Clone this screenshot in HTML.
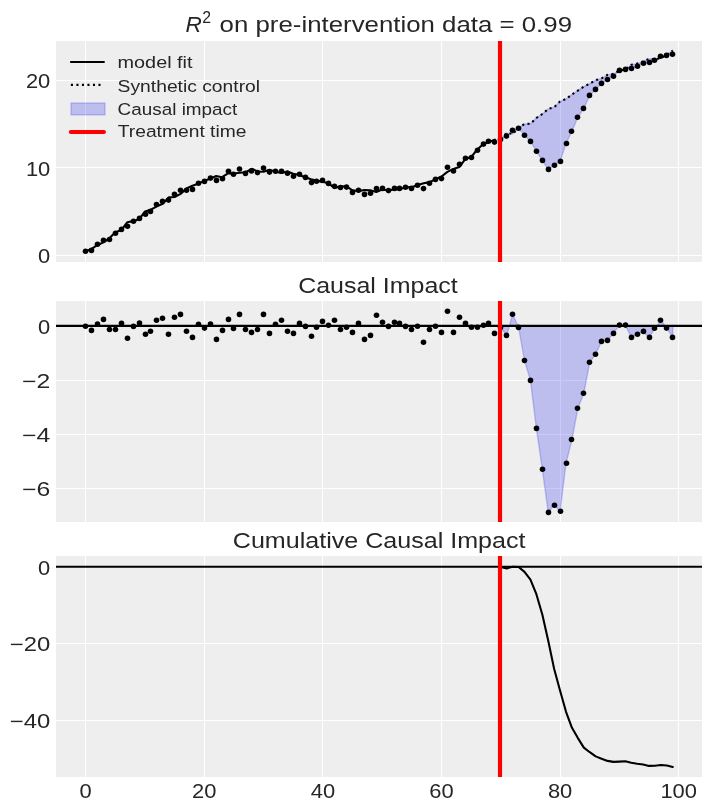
<!DOCTYPE html>
<html><head><meta charset="utf-8"><style>
html,body{margin:0;padding:0;background:#fff;}
svg{display:block;will-change:transform;}
text{font-family:"Liberation Sans",sans-serif;}
</style></head><body>
<svg width="711" height="811" viewBox="0 0 711 811">
<rect width="711" height="811" fill="#ffffff"/>
<defs><clipPath id="c0"><rect x="56" y="41" width="646" height="221"/></clipPath></defs>
<rect x="56" y="41" width="646" height="221" fill="#eeeeee"/>
<path d="M85.5 41V262M204.5 41V262M322.5 41V262M441.5 41V262M560.5 41V262M678.5 41V262M56 255.5H702M56 167.5H702M56 80.5H702" stroke="#ffffff" stroke-width="1.1" fill="none"/>
<defs><clipPath id="c1"><rect x="56" y="301" width="646" height="221"/></clipPath></defs>
<rect x="56" y="301" width="646" height="221" fill="#eeeeee"/>
<path d="M85.5 301V522M204.5 301V522M322.5 301V522M441.5 301V522M560.5 301V522M678.5 301V522M56 325.5H702M56 380.5H702M56 434.5H702M56 488.5H702" stroke="#ffffff" stroke-width="1.1" fill="none"/>
<defs><clipPath id="c2"><rect x="56" y="556" width="646" height="221"/></clipPath></defs>
<rect x="56" y="556" width="646" height="221" fill="#eeeeee"/>
<path d="M85.5 556V777M204.5 556V777M322.5 556V777M441.5 556V777M560.5 556V777M678.5 556V777M56 566.5H702M56 643.5H702M56 720.5H702" stroke="#ffffff" stroke-width="1.1" fill="none"/>
<g clip-path="url(#c0)">
<polygon points="500.8,138.95 506.73,133.02 512.66,134.06 518.59,127.71 524.52,124 530.45,123.75 536.38,118.01 542.31,114 548.24,109.01 554.17,107.21 560.1,101.4 566.03,99.01 571.96,94.52 577.89,90.55 583.82,86.61 589.75,83.61 595.68,80.24 601.61,78.38 607.54,74.81 613.47,73.87 619.4,70.66 625.33,69.66 631.26,64.78 637.19,63.58 643.12,61.42 649.05,58.78 654.98,59.52 660.91,58.01 666.84,54.69 672.77,50.58 672.77,54.3 666.84,55.4 660.91,56.2 654.98,60.3 649.05,62.5 643.12,63.2 637.19,66.3 631.26,68.5 625.33,69.4 619.4,70.4 613.47,76.3 607.54,79.5 601.61,83.4 595.68,89.4 589.75,95.4 583.82,108.4 577.89,117.2 571.96,131.3 566.03,143.5 560.1,161.4 554.17,165.3 548.24,169.4 542.31,160.4 536.38,151.2 530.45,141.4 524.52,135.2 518.59,128.2 512.66,130.3 506.73,136.1 500.8,139.5" fill="#2a2eec" fill-opacity="0.25" stroke="#2a2eec" stroke-opacity="0.25" stroke-width="1.39"/>
<polyline points="85.7,251.2 91.63,248.94 97.56,244.92 103.49,242.4 109.42,238.33 115.35,232.13 121.28,230.24 127.21,222.29 133.14,221.14 139.07,219.31 145,211.48 150.93,209.65 156.86,206.31 162.79,203.86 168.72,197.38 174.65,197.02 180.58,193.92 186.51,188.55 192.44,185.68 198.37,183.85 204.3,180.69 210.23,178.72 216.16,176.03 222.09,177.24 228.02,173.4 233.95,173.46 239.88,172.72 245.81,172.23 251.74,168.8 257.67,171.43 263.6,171.82 269.53,169.67 275.46,171.75 281.39,173.11 287.32,171.45 293.25,173.77 299.18,175.01 305.11,177.24 311.04,179.23 316.97,180.85 322.9,181.86 328.83,183.59 334.76,188.11 340.69,186.33 346.62,186.65 352.55,190.3 358.48,191.11 364.41,190.03 370.34,190.22 376.27,191.96 382.2,189.57 388.13,190.44 394.06,189.57 399.99,189.21 405.92,187.14 411.85,187.23 417.78,185.1 423.71,183.32 429.64,182.13 435.57,179.3 441.5,176.5 447.43,171.93 453.36,168.9 459.29,167.02 465.22,159.01 471.15,157.05 477.08,149.75 483.01,144.29 488.94,142.01 494.87,139.67" fill="none" stroke="#000" stroke-width="2.08" stroke-linejoin="round" stroke-linecap="round"/>
<polyline points="500.8,138.95 506.73,133.02 512.66,134.06 518.59,127.71 524.52,124 530.45,123.75 536.38,118.01 542.31,114 548.24,109.01 554.17,107.21 560.1,101.4 566.03,99.01 571.96,94.52 577.89,90.55 583.82,86.61 589.75,83.61 595.68,80.24 601.61,78.38 607.54,74.81 613.47,73.87 619.4,70.66 625.33,69.66 631.26,64.78 637.19,63.58 643.12,61.42 649.05,58.78 654.98,59.52 660.91,58.01 666.84,54.69 672.77,50.58" fill="none" stroke="#000" stroke-width="2.08" stroke-dasharray="2.08 3.43" stroke-linejoin="round"/>
<circle cx="85.5" cy="251.3" r="2.78"/>
<circle cx="91.5" cy="250.4" r="2.78"/>
<circle cx="97.5" cy="244.3" r="2.78"/>
<circle cx="103.5" cy="240.3" r="2.78"/>
<circle cx="109.5" cy="239.5" r="2.78"/>
<circle cx="115.5" cy="233.3" r="2.78"/>
<circle cx="121.5" cy="229.4" r="2.78"/>
<circle cx="127.5" cy="226.3" r="2.78"/>
<circle cx="133.5" cy="221.3" r="2.78"/>
<circle cx="139.5" cy="218.4" r="2.78"/>
<circle cx="145.5" cy="214.2" r="2.78"/>
<circle cx="150.5" cy="211.4" r="2.78"/>
<circle cx="156.5" cy="204.5" r="2.78"/>
<circle cx="162.5" cy="201.4" r="2.78"/>
<circle cx="168.5" cy="200.1" r="2.78"/>
<circle cx="174.5" cy="194.2" r="2.78"/>
<circle cx="180.5" cy="190.2" r="2.78"/>
<circle cx="186.5" cy="190.3" r="2.78"/>
<circle cx="192.5" cy="189.4" r="2.78"/>
<circle cx="198.5" cy="183.3" r="2.78"/>
<circle cx="204.5" cy="181.4" r="2.78"/>
<circle cx="210.5" cy="178.1" r="2.78"/>
<circle cx="216.5" cy="180.4" r="2.78"/>
<circle cx="222.5" cy="178.7" r="2.78"/>
<circle cx="228.5" cy="171.3" r="2.78"/>
<circle cx="233.5" cy="174.3" r="2.78"/>
<circle cx="239.5" cy="169" r="2.78"/>
<circle cx="245.5" cy="173.4" r="2.78"/>
<circle cx="251.5" cy="170.9" r="2.78"/>
<circle cx="257.5" cy="172.6" r="2.78"/>
<circle cx="263.5" cy="168.1" r="2.78"/>
<circle cx="269.5" cy="172.1" r="2.78"/>
<circle cx="275.5" cy="171.2" r="2.78"/>
<circle cx="281.5" cy="171.3" r="2.78"/>
<circle cx="287.5" cy="173.2" r="2.78"/>
<circle cx="293.5" cy="176.2" r="2.78"/>
<circle cx="299.5" cy="174.2" r="2.78"/>
<circle cx="305.5" cy="177.4" r="2.78"/>
<circle cx="311.5" cy="182.6" r="2.78"/>
<circle cx="316.5" cy="181.3" r="2.78"/>
<circle cx="322.5" cy="180.4" r="2.78"/>
<circle cx="328.5" cy="183.4" r="2.78"/>
<circle cx="334.5" cy="186.3" r="2.78"/>
<circle cx="340.5" cy="187.5" r="2.78"/>
<circle cx="346.5" cy="187.1" r="2.78"/>
<circle cx="352.5" cy="192.4" r="2.78"/>
<circle cx="358.5" cy="190.3" r="2.78"/>
<circle cx="364.5" cy="194.4" r="2.78"/>
<circle cx="370.5" cy="193.3" r="2.78"/>
<circle cx="376.5" cy="188.5" r="2.78"/>
<circle cx="382.5" cy="188.4" r="2.78"/>
<circle cx="388.5" cy="190.6" r="2.78"/>
<circle cx="394.5" cy="188.4" r="2.78"/>
<circle cx="399.5" cy="188.4" r="2.78"/>
<circle cx="405.5" cy="187.3" r="2.78"/>
<circle cx="411.5" cy="188.4" r="2.78"/>
<circle cx="417.5" cy="185.2" r="2.78"/>
<circle cx="423.5" cy="188.6" r="2.78"/>
<circle cx="429.5" cy="183.3" r="2.78"/>
<circle cx="435.5" cy="179.4" r="2.78"/>
<circle cx="441.5" cy="178.6" r="2.78"/>
<circle cx="447.5" cy="167.2" r="2.78"/>
<circle cx="453.5" cy="171" r="2.78"/>
<circle cx="459.5" cy="164.2" r="2.78"/>
<circle cx="465.5" cy="158.2" r="2.78"/>
<circle cx="471.5" cy="157.5" r="2.78"/>
<circle cx="477.5" cy="150.2" r="2.78"/>
<circle cx="483.5" cy="144.1" r="2.78"/>
<circle cx="488.5" cy="141.2" r="2.78"/>
<circle cx="494.5" cy="142.1" r="2.78"/>
<circle cx="500.5" cy="139.5" r="2.78"/>
<circle cx="506.5" cy="136.1" r="2.78"/>
<circle cx="512.5" cy="130.3" r="2.78"/>
<circle cx="518.5" cy="128.2" r="2.78"/>
<circle cx="524.5" cy="135.2" r="2.78"/>
<circle cx="530.5" cy="141.4" r="2.78"/>
<circle cx="536.5" cy="151.2" r="2.78"/>
<circle cx="542.5" cy="160.4" r="2.78"/>
<circle cx="548.5" cy="169.4" r="2.78"/>
<circle cx="554.5" cy="165.3" r="2.78"/>
<circle cx="560.5" cy="161.4" r="2.78"/>
<circle cx="566.5" cy="143.5" r="2.78"/>
<circle cx="571.5" cy="131.3" r="2.78"/>
<circle cx="577.5" cy="117.2" r="2.78"/>
<circle cx="583.5" cy="108.4" r="2.78"/>
<circle cx="589.5" cy="95.4" r="2.78"/>
<circle cx="595.5" cy="89.4" r="2.78"/>
<circle cx="601.5" cy="83.4" r="2.78"/>
<circle cx="607.5" cy="79.5" r="2.78"/>
<circle cx="613.5" cy="76.3" r="2.78"/>
<circle cx="619.5" cy="70.4" r="2.78"/>
<circle cx="625.5" cy="69.4" r="2.78"/>
<circle cx="631.5" cy="68.5" r="2.78"/>
<circle cx="637.5" cy="66.3" r="2.78"/>
<circle cx="643.5" cy="63.2" r="2.78"/>
<circle cx="649.5" cy="62.5" r="2.78"/>
<circle cx="654.5" cy="60.3" r="2.78"/>
<circle cx="660.5" cy="56.2" r="2.78"/>
<circle cx="666.5" cy="55.4" r="2.78"/>
<circle cx="672.5" cy="54.3" r="2.78"/>
</g>
<g clip-path="url(#c1)">
<polygon points="500.8,327.6 506.73,335.4 512.66,314.3 518.59,327.4 524.52,360.5 530.45,380.4 536.38,428.4 542.31,469.2 548.24,512.4 554.17,505.3 560.1,511.2 566.03,463.3 571.96,439.5 577.89,408.2 583.82,393.2 589.75,362.3 595.68,354.2 601.61,341.4 607.54,340.4 613.47,333.4 619.4,325.1 625.33,325.1 631.26,337.4 637.19,334.3 643.12,331.4 649.05,337.4 654.98,328.3 660.91,320.3 666.84,328.1 672.77,337.4 672.77,325.9 500.8,325.9" fill="#2a2eec" fill-opacity="0.25" stroke="#2a2eec" stroke-opacity="0.25" stroke-width="1.39"/>
<circle cx="85.5" cy="326.2" r="2.78"/>
<circle cx="91.5" cy="330.4" r="2.78"/>
<circle cx="97.5" cy="324" r="2.78"/>
<circle cx="103.5" cy="319.4" r="2.78"/>
<circle cx="109.5" cy="329.5" r="2.78"/>
<circle cx="115.5" cy="329.5" r="2.78"/>
<circle cx="121.5" cy="323.3" r="2.78"/>
<circle cx="127.5" cy="338.3" r="2.78"/>
<circle cx="133.5" cy="326.4" r="2.78"/>
<circle cx="139.5" cy="323.1" r="2.78"/>
<circle cx="145.5" cy="334.3" r="2.78"/>
<circle cx="150.5" cy="331.3" r="2.78"/>
<circle cx="156.5" cy="320.3" r="2.78"/>
<circle cx="162.5" cy="318.3" r="2.78"/>
<circle cx="168.5" cy="334.3" r="2.78"/>
<circle cx="174.5" cy="317.2" r="2.78"/>
<circle cx="180.5" cy="314.4" r="2.78"/>
<circle cx="186.5" cy="331.3" r="2.78"/>
<circle cx="192.5" cy="337.4" r="2.78"/>
<circle cx="198.5" cy="324.2" r="2.78"/>
<circle cx="204.5" cy="328.1" r="2.78"/>
<circle cx="210.5" cy="324" r="2.78"/>
<circle cx="216.5" cy="339.4" r="2.78"/>
<circle cx="222.5" cy="330.4" r="2.78"/>
<circle cx="228.5" cy="319.4" r="2.78"/>
<circle cx="233.5" cy="328.5" r="2.78"/>
<circle cx="239.5" cy="314.4" r="2.78"/>
<circle cx="245.5" cy="329.5" r="2.78"/>
<circle cx="251.5" cy="332.4" r="2.78"/>
<circle cx="257.5" cy="329.5" r="2.78"/>
<circle cx="263.5" cy="314.4" r="2.78"/>
<circle cx="269.5" cy="333.4" r="2.78"/>
<circle cx="275.5" cy="324.2" r="2.78"/>
<circle cx="281.5" cy="320.3" r="2.78"/>
<circle cx="287.5" cy="331.3" r="2.78"/>
<circle cx="293.5" cy="333.4" r="2.78"/>
<circle cx="299.5" cy="323.4" r="2.78"/>
<circle cx="305.5" cy="326.4" r="2.78"/>
<circle cx="311.5" cy="336.3" r="2.78"/>
<circle cx="316.5" cy="327.3" r="2.78"/>
<circle cx="322.5" cy="321.4" r="2.78"/>
<circle cx="328.5" cy="325.3" r="2.78"/>
<circle cx="334.5" cy="320.3" r="2.78"/>
<circle cx="340.5" cy="329.5" r="2.78"/>
<circle cx="346.5" cy="327.3" r="2.78"/>
<circle cx="352.5" cy="332.4" r="2.78"/>
<circle cx="358.5" cy="323.4" r="2.78"/>
<circle cx="364.5" cy="339.4" r="2.78"/>
<circle cx="370.5" cy="335.4" r="2.78"/>
<circle cx="376.5" cy="315.2" r="2.78"/>
<circle cx="382.5" cy="322.3" r="2.78"/>
<circle cx="388.5" cy="326.4" r="2.78"/>
<circle cx="394.5" cy="322.3" r="2.78"/>
<circle cx="399.5" cy="323.4" r="2.78"/>
<circle cx="405.5" cy="326.4" r="2.78"/>
<circle cx="411.5" cy="329.5" r="2.78"/>
<circle cx="417.5" cy="326.2" r="2.78"/>
<circle cx="423.5" cy="342.2" r="2.78"/>
<circle cx="429.5" cy="329.5" r="2.78"/>
<circle cx="435.5" cy="326.2" r="2.78"/>
<circle cx="441.5" cy="332.4" r="2.78"/>
<circle cx="447.5" cy="311.3" r="2.78"/>
<circle cx="453.5" cy="332.4" r="2.78"/>
<circle cx="459.5" cy="317.2" r="2.78"/>
<circle cx="465.5" cy="323.4" r="2.78"/>
<circle cx="471.5" cy="327.3" r="2.78"/>
<circle cx="477.5" cy="327.3" r="2.78"/>
<circle cx="483.5" cy="325.3" r="2.78"/>
<circle cx="488.5" cy="323.4" r="2.78"/>
<circle cx="494.5" cy="333.4" r="2.78"/>
<circle cx="500.5" cy="327.6" r="2.78"/>
<circle cx="506.5" cy="335.4" r="2.78"/>
<circle cx="512.5" cy="314.3" r="2.78"/>
<circle cx="518.5" cy="327.4" r="2.78"/>
<circle cx="524.5" cy="360.5" r="2.78"/>
<circle cx="530.5" cy="380.4" r="2.78"/>
<circle cx="536.5" cy="428.4" r="2.78"/>
<circle cx="542.5" cy="469.2" r="2.78"/>
<circle cx="548.5" cy="512.4" r="2.78"/>
<circle cx="554.5" cy="505.3" r="2.78"/>
<circle cx="560.5" cy="511.2" r="2.78"/>
<circle cx="566.5" cy="463.3" r="2.78"/>
<circle cx="571.5" cy="439.5" r="2.78"/>
<circle cx="577.5" cy="408.2" r="2.78"/>
<circle cx="583.5" cy="393.2" r="2.78"/>
<circle cx="589.5" cy="362.3" r="2.78"/>
<circle cx="595.5" cy="354.2" r="2.78"/>
<circle cx="601.5" cy="341.4" r="2.78"/>
<circle cx="607.5" cy="340.4" r="2.78"/>
<circle cx="613.5" cy="333.4" r="2.78"/>
<circle cx="619.5" cy="325.1" r="2.78"/>
<circle cx="625.5" cy="325.1" r="2.78"/>
<circle cx="631.5" cy="337.4" r="2.78"/>
<circle cx="637.5" cy="334.3" r="2.78"/>
<circle cx="643.5" cy="331.4" r="2.78"/>
<circle cx="649.5" cy="337.4" r="2.78"/>
<circle cx="654.5" cy="328.3" r="2.78"/>
<circle cx="660.5" cy="320.3" r="2.78"/>
<circle cx="666.5" cy="328.1" r="2.78"/>
<circle cx="672.5" cy="337.4" r="2.78"/>
<path d="M56 325.9H702" stroke="#000" stroke-width="2.08"/>
</g>
<g clip-path="url(#c2)">
<polyline points="500.8,567.04 506.73,568.39 512.66,566.74 518.59,566.96 524.52,571.87 530.45,579.61 536.38,594.17 542.31,614.53 548.24,640.7 554.17,669 560.1,690.8 566.03,711.8 571.96,727.8 577.89,738.1 583.82,747.6 589.75,752.2 595.68,756.4 601.61,758.8 607.54,760.9 613.47,761.9 619.4,761.6 625.33,761.2 631.26,762.8 637.19,763.8 643.12,764.5 649.05,765.9 654.98,765.7 660.91,765 666.84,765.5 672.77,767" fill="none" stroke="#000" stroke-width="2.08" stroke-linejoin="round" stroke-linecap="round"/>
<path d="M56 566.8H702" stroke="#000" stroke-width="2.08"/>
</g>
<path d="M500 41V262" stroke="#ff0000" stroke-width="4.17"/>
<path d="M500 301V522" stroke="#ff0000" stroke-width="4.17"/>
<path d="M500 556V777" stroke="#ff0000" stroke-width="4.17"/>
<path d="M70.9 62H103.9" stroke="#000" stroke-width="2.08" stroke-linecap="round"/>
<path d="M70.9 84.9H103.5" stroke="#000" stroke-width="2.08" stroke-dasharray="2.08 3.43"/>
<rect x="71.0" y="103.0" width="34.0" height="11.9" fill="#2a2eec" fill-opacity="0.25" stroke="#2a2eec" stroke-opacity="0.25" stroke-width="1.39"/>
<path d="M70.9 132H103.9" stroke="#ff0000" stroke-width="4.17" stroke-linecap="round"/>
<text x="117.6" y="68.3" font-family="Liberation Sans, sans-serif" font-size="17.2" fill="#262626" text-anchor="start" textLength="74.9" lengthAdjust="spacingAndGlyphs">model fit</text>
<text x="117.6" y="91.5" font-family="Liberation Sans, sans-serif" font-size="17.2" fill="#262626" text-anchor="start" textLength="142.5" lengthAdjust="spacingAndGlyphs">Synthetic control</text>
<text x="117.6" y="114.6" font-family="Liberation Sans, sans-serif" font-size="17.2" fill="#262626" text-anchor="start" textLength="119.7" lengthAdjust="spacingAndGlyphs">Causal impact</text>
<text x="117.8" y="137.3" font-family="Liberation Sans, sans-serif" font-size="17.2" fill="#262626" text-anchor="start" textLength="128.6" lengthAdjust="spacingAndGlyphs">Treatment time</text>
<text x="185.4" y="32" font-family="Liberation Sans, sans-serif" font-size="22.6" fill="#262626" font-style="italic">R</text>
<text x="202.3" y="22.8" font-family="Liberation Sans, sans-serif" font-size="15.8" fill="#262626">2</text>
<text x="219.6" y="32" font-family="Liberation Sans, sans-serif" font-size="22.6" fill="#262626" text-anchor="start" textLength="352.4" lengthAdjust="spacingAndGlyphs">on pre-intervention data = 0.99</text>
<text x="298.2" y="292.6" font-family="Liberation Sans, sans-serif" font-size="22.6" fill="#262626" text-anchor="start" textLength="159.6" lengthAdjust="spacingAndGlyphs">Causal Impact</text>
<text x="232.8" y="548.4" font-family="Liberation Sans, sans-serif" font-size="22.6" fill="#262626" text-anchor="start" textLength="292.7" lengthAdjust="spacingAndGlyphs">Cumulative Causal Impact</text>
<text x="85.7" y="798.3" font-family="Liberation Sans, sans-serif" font-size="19.8" fill="#262626" text-anchor="middle" textLength="12.18" lengthAdjust="spacingAndGlyphs">0</text>
<text x="204.3" y="798.3" font-family="Liberation Sans, sans-serif" font-size="19.8" fill="#262626" text-anchor="middle" textLength="24.37" lengthAdjust="spacingAndGlyphs">20</text>
<text x="322.9" y="798.3" font-family="Liberation Sans, sans-serif" font-size="19.8" fill="#262626" text-anchor="middle" textLength="24.37" lengthAdjust="spacingAndGlyphs">40</text>
<text x="441.5" y="798.3" font-family="Liberation Sans, sans-serif" font-size="19.8" fill="#262626" text-anchor="middle" textLength="24.37" lengthAdjust="spacingAndGlyphs">60</text>
<text x="560.1" y="798.3" font-family="Liberation Sans, sans-serif" font-size="19.8" fill="#262626" text-anchor="middle" textLength="24.37" lengthAdjust="spacingAndGlyphs">80</text>
<text x="678.7" y="798.3" font-family="Liberation Sans, sans-serif" font-size="19.8" fill="#262626" text-anchor="middle" textLength="36.55" lengthAdjust="spacingAndGlyphs">100</text>
<text x="50.3" y="263.3" font-family="Liberation Sans, sans-serif" font-size="19.8" fill="#262626" text-anchor="end" textLength="12.18" lengthAdjust="spacingAndGlyphs">0</text>
<text x="50.3" y="175.65" font-family="Liberation Sans, sans-serif" font-size="19.8" fill="#262626" text-anchor="end" textLength="24.37" lengthAdjust="spacingAndGlyphs">10</text>
<text x="50.3" y="88" font-family="Liberation Sans, sans-serif" font-size="19.8" fill="#262626" text-anchor="end" textLength="24.37" lengthAdjust="spacingAndGlyphs">20</text>
<text x="50.3" y="333.6" font-family="Liberation Sans, sans-serif" font-size="19.8" fill="#262626" text-anchor="end" textLength="12.18" lengthAdjust="spacingAndGlyphs">0</text>
<text x="50.3" y="387.74" font-family="Liberation Sans, sans-serif" font-size="19.8" fill="#262626" text-anchor="end" textLength="28.23" lengthAdjust="spacingAndGlyphs">−2</text>
<text x="50.3" y="441.88" font-family="Liberation Sans, sans-serif" font-size="19.8" fill="#262626" text-anchor="end" textLength="28.23" lengthAdjust="spacingAndGlyphs">−4</text>
<text x="50.3" y="496.02" font-family="Liberation Sans, sans-serif" font-size="19.8" fill="#262626" text-anchor="end" textLength="28.23" lengthAdjust="spacingAndGlyphs">−6</text>
<text x="50.3" y="574.5" font-family="Liberation Sans, sans-serif" font-size="19.8" fill="#262626" text-anchor="end" textLength="12.18" lengthAdjust="spacingAndGlyphs">0</text>
<text x="50.3" y="651.4" font-family="Liberation Sans, sans-serif" font-size="19.8" fill="#262626" text-anchor="end" textLength="40.41" lengthAdjust="spacingAndGlyphs">−20</text>
<text x="50.3" y="728.3" font-family="Liberation Sans, sans-serif" font-size="19.8" fill="#262626" text-anchor="end" textLength="40.41" lengthAdjust="spacingAndGlyphs">−40</text>
</svg>
</body></html>
